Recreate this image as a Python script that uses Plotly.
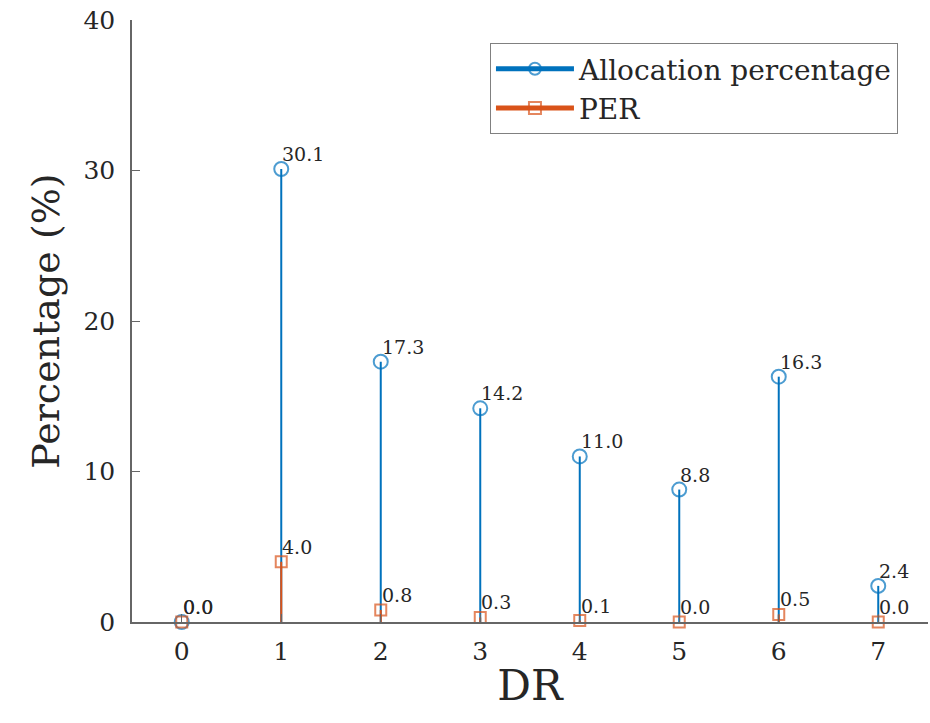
import plotly.graph_objects as go

dr = [0, 1, 2, 3, 4, 5, 6, 7]
alloc = [0.0, 30.1, 17.3, 14.2, 11.0, 8.8, 16.3, 2.4]
per = [0.0, 4.0, 0.8, 0.3, 0.1, 0.0, 0.5, 0.0]
series_names = ["Allocation percentage", "PER"]
colors = ["#0072BD", "#D95319"]
symbols = ["circle-open", "square-open"]
sizes = [14, 11]
y_ticks = [0, 10, 20, 30, 40]

FONT = "DejaVu Serif, serif"
TXT = "#262626"

fig = go.Figure()

for vals, name, col, sym, sz in zip([alloc, per], series_names, colors, symbols, sizes):
    xs, ys, ms = [], [], []
    for x, v in zip(dr, vals):
        xs += [x, x, None]
        ys += [0, v, None]
        ms += [0, sz, 0]
    fig.add_trace(go.Scatter(
        x=xs, y=ys, mode="lines+markers", name=name,
        line=dict(color=col, width=2),
        marker=dict(symbol=sym, size=ms, color=col, line=dict(width=2, color=col)),
        cliponaxis=False,
    ))

for vals in [alloc, per]:
    for x, v in zip(dr, vals):
        fig.add_annotation(x=x, y=v, text=f"{v:.1f}", showarrow=False,
                           xanchor="left", yanchor="middle", xshift=-1, yshift=15,
                           font=dict(family=FONT, size=19, color=TXT))

fig.update_layout(
    width=930, height=723,
    margin=dict(l=132, r=2, t=20, b=101, autoexpand=False),
    paper_bgcolor="white", plot_bgcolor="white",
    font=dict(family=FONT, color=TXT),
    showlegend=True,
    legend=dict(x=0.4497, y=0.9618, xanchor="left", yanchor="top",
                bgcolor="white", bordercolor="#808080", borderwidth=1,
                font=dict(family=FONT, size=28, color=TXT),
                itemsizing="constant", itemwidth=78, tracegroupgap=0),
    xaxis=dict(range=[-0.5, 7.5], tickvals=dr, ticktext=[str(d) for d in dr],
               showgrid=False, zeroline=False, showline=True, linecolor="#666666",
               linewidth=1.5, ticks="inside", ticklen=8, tickcolor="#666666",
               ticklabelstandoff=6, ticklabeloverflow="allow", automargin=False,
               tickfont=dict(family=FONT, size=25, color=TXT),
               title=dict(text="DR", font=dict(family=FONT, size=42, color=TXT), standoff=6)),
    yaxis=dict(range=[0, 40], tickvals=y_ticks, ticktext=[str(t) for t in y_ticks],
               showgrid=False, zeroline=False, showline=True, linecolor="#666666",
               linewidth=1.5, ticks="inside", ticklen=8, tickcolor="#666666",
               ticklabelstandoff=10, ticklabeloverflow="allow", automargin=False,
               tickfont=dict(family=FONT, size=25, color=TXT),
               title=dict(text="Percentage (%)", font=dict(family=FONT, size=38, color=TXT), standoff=12)),
)

fig.write_html("out.html", config={"displayModeBar": False},
               post_script="document.body.style.margin='0';")
